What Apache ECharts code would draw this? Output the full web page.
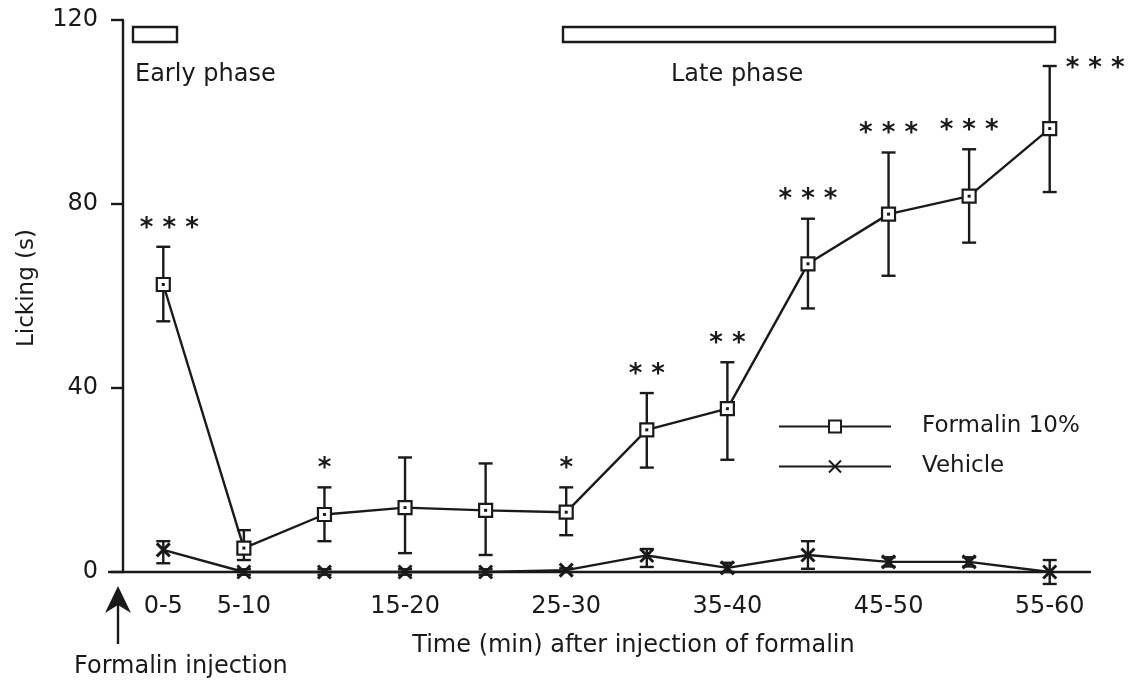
<!DOCTYPE html>
<html><head><meta charset="utf-8">
<script src="https://cdn.jsdelivr.net/npm/echarts@6/dist/echarts.min.js"></script>
<style>html,body{margin:0;padding:0;background:#fff}#c{width:1130px;height:681px}</style>
</head><body><div id="c"></div>
<script>
const categories = ['0-5','5-10','10-15','15-20','20-25','25-30','30-35','35-40','40-45','45-50','50-55','55-60'];
const shownLabels = ['0-5','5-10','15-20','25-30','35-40','45-50','55-60'];
const formalinMean = [62.5, 5.2, 12.5, 14.0, 13.4, 13.0, 30.9, 35.5, 67.0, 77.8, 81.7, 96.4];
const formalinLow  = [54.5, 2.6, 6.7, 4.1, 3.7, 8.0, 22.7, 24.4, 57.3, 64.4, 71.6, 82.6];
const formalinHigh = [70.7, 9.1, 18.4, 24.9, 23.6, 18.4, 38.9, 45.6, 76.8, 91.2, 91.9, 110.0];
const vehicleMean = [4.8, 0, 0, 0, 0, 0.4, 3.6, 0.9, 3.7, 2.2, 2.2, 0];
const vehicleLow  = [1.9, -0.6, -0.6, -0.6, -0.6, 0, 1.1, 0, 0.7, 1.2, 1.2, -2.6];
const vehicleHigh = [6.7, 0.6, 0.6, 0.6, 0.6, 0.8, 5.0, 2.0, 6.7, 3.2, 3.2, 2.6];
const significance = ['***','','*','','','*','**','**','***','***','***','***'];
const yTicks = [0, 40, 80, 120];
const seriesNames = ['Formalin 10%', 'Vehicle'];
const xTitle = 'Time (min) after injection of formalin';
const yTitle = 'Licking (s)';

const INK = '#1a1a1a';
const FONT = '"DejaVu Sans"';
const LW = 2.4;

function errData(mean, lo, hi) {
  return mean.map((m, i) => [i, m, lo[i], hi[i]]);
}

function makeErrRender(isFormalin) {
  return function (params, api) {
    const i = api.value(0);
    const m = api.coord([i, api.value(1)]);
    const lo = api.coord([i, api.value(2)]);
    const hi = api.coord([i, api.value(3)]);
    const x = m[0], cap = 7, half = isFormalin ? 6.5 : 0;
    const st = { stroke: INK, lineWidth: LW };
    const ch = [];
    if (hi[1] < m[1] - half) ch.push({ type: 'line', shape: { x1: x, y1: hi[1], x2: x, y2: m[1] - half }, style: st });
    if (lo[1] > m[1] + half) ch.push({ type: 'line', shape: { x1: x, y1: m[1] + half, x2: x, y2: lo[1] }, style: st });
    ch.push({ type: 'line', shape: { x1: x - cap, y1: hi[1], x2: x + cap, y2: hi[1] }, style: st });
    ch.push({ type: 'line', shape: { x1: x - cap, y1: lo[1], x2: x + cap, y2: lo[1] }, style: st });
    if (isFormalin) {
      ch.push({ type: 'rect', shape: { x: x - 1.5, y: m[1] - 1.5, width: 3, height: 3 }, style: { fill: INK } });
      const s = significance[i];
      if (s) {
        const txt = s.split('').join(' ');
        const last = i === categories.length - 1;
        ch.push({
          type: 'text',
          x: last ? x + 16 : x + (i === 0 ? 6 : 0),
          y: last ? hi[1] + 16 : hi[1] - 5,
          style: { text: txt, fill: INK, font: 'bold 26px ' + FONT, align: last ? 'left' : 'center', verticalAlign: 'bottom' }
        });
      }
    }
    return { type: 'group', children: ch };
  };
}

const chart = echarts.init(document.getElementById('c'), null, { renderer: 'canvas' });
chart.setOption({
  backgroundColor: '#fff',
  animation: false,
  textStyle: { fontFamily: FONT, color: INK },
  grid: { left: 123, right: 40, top: 20, bottom: 109 },
  legend: {
    data: seriesNames,
    orient: 'vertical', left: 773, top: 408,
    itemWidth: 112, itemHeight: 15, itemGap: 13,
    selectedMode: false,
    textStyle: { fontSize: 23, color: INK, fontFamily: FONT, padding: [0, 0, 0, 26], lineHeight: 27 }
  },
  xAxis: {
    type: 'category',
    data: categories,
    boundaryGap: true,
    name: xTitle,
    nameLocation: 'middle',
    nameGap: 62,
    nameTextStyle: { fontSize: 24, color: INK, fontFamily: FONT, padding: [0, 0, 0, 54] },
    axisLine: { lineStyle: { color: INK, width: LW } },
    axisTick: { interval: 0, alignWithLabel: true, length: 12, lineStyle: { color: INK, width: LW } },
    axisLabel: {
      interval: (idx, val) => shownLabels.indexOf(val) >= 0,
      margin: 23, fontSize: 24, color: INK, fontFamily: FONT
    },
    splitLine: { show: false }
  },
  yAxis: {
    type: 'value',
    min: yTicks[0], max: yTicks[yTicks.length - 1], interval: yTicks[1] - yTicks[0],
    name: yTitle,
    nameLocation: 'middle',
    nameRotate: 90,
    nameGap: 84,
    nameTextStyle: { fontSize: 23, color: INK, fontFamily: FONT, padding: [0, 0, 0, 16] },
    axisLine: { show: true, lineStyle: { color: INK, width: LW } },
    axisTick: { show: true, length: 12, lineStyle: { color: INK, width: LW } },
    axisLabel: { margin: 25, fontSize: 24, color: INK, fontFamily: FONT },
    splitLine: { show: false }
  },
  series: [
    {
      name: seriesNames[1], type: 'line', data: vehicleMean, clip: false,
      symbol: 'path://M0,0L12,12M12,0L0,12', symbolSize: 13,
      lineStyle: { color: INK, width: LW },
      itemStyle: { color: INK, borderColor: INK, borderWidth: 3 },
      z: 2
    },
    {
      name: seriesNames[0], type: 'line', data: formalinMean, clip: false,
      symbol: 'rect', symbolSize: 13,
      lineStyle: { color: INK, width: LW },
      itemStyle: { color: '#fff', borderColor: INK, borderWidth: 2.2 },
      z: 3
    },
    {
      name: 'vehErr', type: 'custom', data: errData(vehicleMean, vehicleLow, vehicleHigh),
      encode: { x: 0, y: [1, 2, 3] }, renderItem: makeErrRender(false), z: 4
    },
    {
      name: 'forErr', type: 'custom', data: errData(formalinMean, formalinLow, formalinHigh),
      encode: { x: 0, y: [1, 2, 3] }, renderItem: makeErrRender(true), z: 5
    }
  ],
  graphic: [
    { type: 'rect', shape: { x: 133, y: 27, width: 44, height: 15 }, style: { fill: '#fff', stroke: INK, lineWidth: LW } },
    { type: 'rect', shape: { x: 563, y: 27, width: 492, height: 15 }, style: { fill: '#fff', stroke: INK, lineWidth: LW } },
    { type: 'text', x: 135, y: 75, style: { text: 'Early phase', font: '24px ' + FONT, fill: INK, verticalAlign: 'middle' } },
    { type: 'text', x: 671, y: 75, style: { text: 'Late phase', font: '24px ' + FONT, fill: INK, verticalAlign: 'middle' } },
    { type: 'polygon', shape: { points: [[118, 586], [131, 613], [118, 605], [105, 613]] }, style: { fill: INK } },
    { type: 'line', shape: { x1: 118, y1: 604, x2: 118, y2: 644 }, style: { stroke: INK, lineWidth: LW } },
    { type: 'text', x: 74, y: 667, style: { text: 'Formalin injection', font: '24px ' + FONT, fill: INK, verticalAlign: 'middle' } },
    { type: 'line', shape: { x1: 108, y1: 572, x2: 123, y2: 572 }, style: { stroke: INK, lineWidth: LW } }
  ]
});
</script>
</body></html>
